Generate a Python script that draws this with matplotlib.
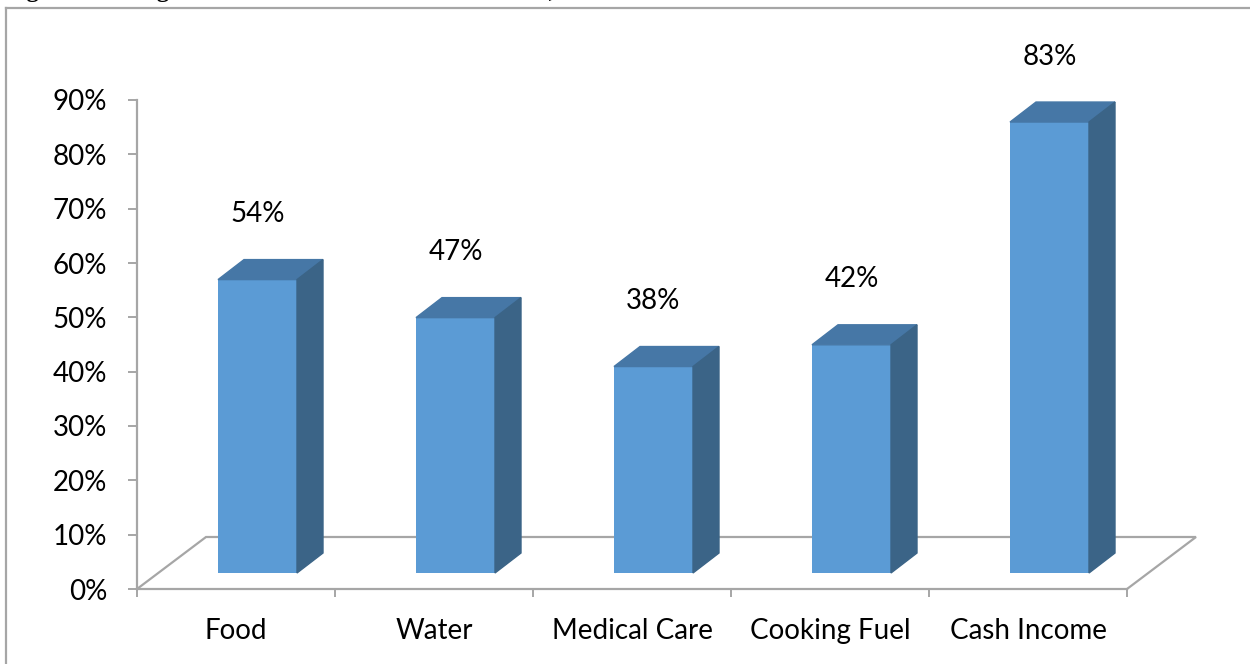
import matplotlib
matplotlib.use("Agg")
import matplotlib.pyplot as plt
from matplotlib.patches import Polygon
from matplotlib.lines import Line2D
import numpy as np

# data
categories = ["Food", "Water", "Medical Care", "Cooking Fuel", "Cash Income"]
values = [54, 47, 38, 42, 83]
yticks = list(range(0, 100, 10))

plt.rcParams['font.family'] = ['Lato', 'DejaVu Sans']

W, H = 1250, 664
fig = plt.figure(figsize=(W / 100, H / 100), dpi=100)

# plot area in pixels: x 137..1127, y(0%)=589, y(90%)=100
ax = fig.add_axes([137 / W, (H - 589) / H, (1127 - 137) / W, (589 - 100) / H])
ax.set_xlim(-0.5, 4.5)
ax.set_ylim(0, 90)

px_x = 5 / (1127 - 137)      # data units per pixel, x
px_y = 90 / (589 - 100)      # data units per pixel, y

grey = "#a6a6a6"
front_c = "#5b9bd5"
top_c = "#4677a6"
side_c = "#3b6487"

# floor (3D depth)
fdx, fdy = 69 * px_x, 52 * px_y
ax.plot([-0.5, -0.5 + fdx, 4.5 + fdx, 4.5], [0, fdy, fdy, 0], color=grey,
        lw=1.6, clip_on=False, zorder=1, solid_joinstyle="miter")

# bars
x = np.arange(len(categories))
f0, f1 = -18 * px_x, 61 * px_x      # front face relative to category centre
lift = 16 * px_y                     # front face bottom above the floor front
sdx, sdy = 26 * px_x, 20 * px_y      # side depth

ax.bar(x + f0, values, width=f1 - f0, bottom=lift, align="edge",
       color=front_c, zorder=3, clip_on=False)
for xi, v in zip(x, values):
    l, r = xi + f0, xi + f1
    t = v + lift
    ax.add_patch(Polygon([(l, t), (r, t), (r + sdx, t + sdy), (l + sdx, t + sdy)],
                         closed=True, color=top_c, zorder=3, clip_on=False))
    ax.add_patch(Polygon([(r, lift), (r + sdx, lift + sdy), (r + sdx, t + sdy), (r, t)],
                         closed=True, color=side_c, zorder=3, clip_on=False))
    ax.text(xi + (f0 + f1) / 2, v + 15.0, f"{v}%", ha="center", va="center",
            fontsize=20, color="black")

# axes styling
for s in ["top", "right"]:
    ax.spines[s].set_visible(False)
for s in ["left", "bottom"]:
    ax.spines[s].set_color(grey)
    ax.spines[s].set_linewidth(1.6)
    ax.spines[s].set_zorder(2)

ax.set_yticks(yticks)
ax.set_yticklabels([f"{t}%" for t in yticks], fontsize=20)
ax.tick_params(axis="y", length=6.5, width=1.4, color=grey, pad=15)

ax.set_xticks(x)
ax.set_xticklabels(categories, fontsize=20)
ax.set_xticks(np.arange(-0.5, 5, 1), minor=True)
ax.tick_params(axis="x", which="major", length=0, pad=21)
ax.tick_params(axis="x", which="minor", length=6, width=1.4, color=grey)

# chart frame (cropped)
fig.add_artist(Line2D([6 / W, 1], [1 - 8 / H, 1 - 8 / H], color=grey, lw=1.6))
fig.add_artist(Line2D([6 / W, 6 / W], [0, 1 - 8 / H], color=grey, lw=1.6))

# caption above the chart, cropped at the top edge as in the source
fig.text(5 / W, 1 + 3 / H, "Figure 6: Going Without Essential Household Goods, %",
         family="Liberation Serif", weight="bold", fontsize=17.5, va="baseline")

fig.savefig("out.png", dpi=100)
